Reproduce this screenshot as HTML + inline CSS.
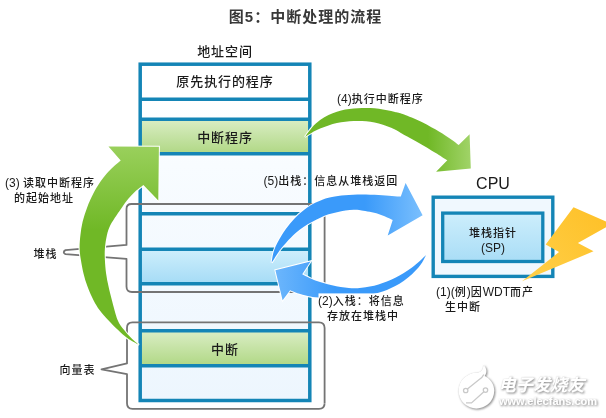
<!DOCTYPE html>
<html lang="zh-CN">
<head>
<meta charset="utf-8">
<title>图5：中断处理的流程</title>
<style>
html,body{margin:0;padding:0;background:#fff;}
body{width:606px;height:418px;overflow:hidden;position:relative;}
svg{position:absolute;left:0;top:0;display:block;will-change:transform;}
text{font-family:"Liberation Sans","Noto Sans CJK SC",sans-serif;fill:#1a1a1a;}
.t12{font-size:11px;letter-spacing:1px;font-weight:500;}
.l{font-size:12px;letter-spacing:0;font-weight:400;}
.row{font-size:13px;letter-spacing:0.9px;font-weight:500;}
</style>
</head>
<body>
<svg width="606" height="418" viewBox="0 0 606 418">
<defs>
<linearGradient id="gGreenRow" x1="0" y1="0" x2="0" y2="1">
<stop offset="0" stop-color="#d9edc3"/><stop offset="1" stop-color="#b1d886"/>
</linearGradient>
<linearGradient id="gBlueRow" x1="0" y1="0" x2="0" y2="1">
<stop offset="0" stop-color="#cdeefc"/><stop offset="1" stop-color="#a6dcf6"/>
</linearGradient>
<linearGradient id="gTbl" x1="0" y1="0" x2="0" y2="1">
<stop offset="0" stop-color="#ffffff"/><stop offset="0.1" stop-color="#ffffff"/><stop offset="0.3" stop-color="#f8fcff"/><stop offset="1" stop-color="#edf6fe"/>
</linearGradient>
<linearGradient id="gSP" x1="0" y1="0" x2="0" y2="1">
<stop offset="0" stop-color="#cdeefc"/><stop offset="1" stop-color="#a9ddf6"/>
</linearGradient>
<linearGradient id="gArrow3" gradientUnits="userSpaceOnUse" x1="0" y1="146" x2="0" y2="230">
<stop offset="0" stop-color="#9ad05c"/><stop offset="1" stop-color="#70b826"/>
</linearGradient>
<linearGradient id="gArrow4" gradientUnits="userSpaceOnUse" x1="428" y1="0" x2="472" y2="0">
<stop offset="0" stop-color="#70b826"/><stop offset="1" stop-color="#a2d46a"/>
</linearGradient>
<linearGradient id="gArrow5" gradientUnits="userSpaceOnUse" x1="365" y1="0" x2="424" y2="0">
<stop offset="0" stop-color="#3a9afa"/><stop offset="1" stop-color="#7cc0fd"/>
</linearGradient>
<linearGradient id="gArrow2" gradientUnits="userSpaceOnUse" x1="275" y1="0" x2="335" y2="0">
<stop offset="0" stop-color="#6cb6fc"/><stop offset="1" stop-color="#3a9afa"/>
</linearGradient>
<linearGradient id="gBolt" gradientUnits="userSpaceOnUse" x1="606" y1="210" x2="522" y2="281">
<stop offset="0" stop-color="#fec027"/><stop offset="1" stop-color="#ffd04a"/>
</linearGradient>
</defs>

<!-- table fills -->
<rect x="140" y="64" width="170" height="337" fill="url(#gTbl)"/>
<rect x="140" y="120" width="170" height="33" fill="url(#gGreenRow)"/>
<rect x="140" y="250" width="170" height="33" fill="url(#gBlueRow)"/>
<rect x="140" y="332" width="170" height="33" fill="url(#gGreenRow)"/>
<!-- table lines -->
<g fill="none" stroke="#1485b6" stroke-width="3.5">
<rect x="140.2" y="64.2" width="169.6" height="336.3"/>
<path d="M140 99.2H310M140 119.2H310M140 153.8H310M140 213.7H310M140 249.2H310M140 283.8H310M140 330.8H310M140 365.8H310"/>
</g>

<!-- gray callout brackets -->
<g fill="none" stroke="#747474" stroke-width="1.8" stroke-linejoin="round">
<path d="M324.6 288V209.5Q324.6 204 319 204H131.5Q126.5 204 126.5 209V244.9L65.5 250.1Q62 252.1 65.5 254.2L126.5 258.8V286.5Q126.5 292 132 292H319Q324.6 292 324.6 286.5"/>
<path d="M324.6 403V328Q324.6 322.3 319 322.3H132.5Q127 322.3 127 327.8V363.4L101.5 369.3L127 374.2V403.3Q127 408.9 132.5 408.9H319Q324.6 408.9 324.6 403.3"/>
</g>

<!-- arrow 3 (green, left) -->
<path d="M138.9 344.9C137.0 343.8 130.7 340.6 127.2 338.1C123.7 335.6 121.3 333.1 118.1 330.1C114.9 327.1 111.2 323.4 108.1 320.0C105.0 316.6 101.9 313.3 99.5 310.0C97.1 306.7 95.5 304.1 93.5 300.2C91.5 296.3 89.3 291.3 87.6 286.8C85.9 282.3 84.6 277.9 83.5 273.4C82.4 268.9 81.6 264.1 80.9 260.0C80.2 255.9 79.7 252.7 79.6 248.6C79.5 244.5 79.9 239.7 80.4 235.2C80.9 230.7 81.5 226.3 82.6 221.8C83.7 217.3 85.5 212.0 86.8 208.4C88.1 204.8 89.0 202.7 90.2 200.0C91.4 197.3 92.8 194.5 94.1 192.0C95.4 189.5 96.6 187.5 98.1 185.2C99.6 182.9 101.4 180.3 103.1 178.1C104.8 175.9 106.2 174.1 108.1 172.1C109.9 170.1 112.1 168.0 114.2 166.1C116.3 164.2 119.6 161.5 120.7 160.6L108.5 146.4L158.9 146.7L158.3 200.5L143.4 185.1C142.0 186.2 137.8 189.3 135.2 191.6C132.6 193.9 130.3 196.5 128.1 199.1C125.9 201.7 124.0 204.5 122.1 207.2C120.2 209.9 118.6 212.2 116.6 215.2C114.6 218.2 111.9 221.9 110.3 225.2C108.7 228.5 107.8 231.3 106.9 235.2C106.0 239.1 105.2 244.5 104.9 248.6C104.6 252.7 104.7 255.9 104.9 260.0C105.1 264.1 105.5 268.9 106.1 273.4C106.7 277.9 107.6 282.3 108.6 286.8C109.6 291.3 110.4 294.7 111.9 300.2C113.4 305.7 115.6 315.0 117.6 320.0C119.6 325.0 121.8 327.1 124.1 330.1C126.4 333.1 128.7 335.6 131.2 338.1C133.7 340.6 137.6 343.8 138.9 344.9Z" fill="url(#gArrow3)" stroke="#fff" stroke-width="2" paint-order="stroke" stroke-linejoin="miter"/>

<!-- arrow 4 (green, top right) -->
<path d="M305.0 136.9C306.1 135.4 309.3 130.5 311.8 127.7C314.3 124.9 317.3 122.2 320.1 120.1C322.9 118.0 325.7 116.5 328.5 115.1C331.3 113.7 334.1 112.7 336.9 111.8C339.7 110.9 342.5 110.2 345.3 109.6C348.1 109.0 350.8 108.7 353.6 108.4C356.4 108.1 359.2 108.0 362.0 107.9C364.8 107.9 367.6 108.0 370.4 108.1C373.2 108.2 376.0 108.3 378.8 108.7C381.6 109.1 384.4 109.7 387.1 110.2C389.8 110.7 392.6 111.3 395.0 111.9C397.4 112.5 397.9 112.3 401.8 113.7C405.7 115.1 412.9 117.8 418.5 120.4C424.1 123.0 430.3 126.4 435.3 129.3C440.3 132.2 444.8 135.1 448.7 137.7C452.6 140.3 457.0 143.7 458.7 144.9L469.6 134.3L470.8 168.5L436.1 171.7L447.3 160.3C445.3 159.0 440.1 155.6 435.3 152.7C430.5 149.8 424.1 145.9 418.5 142.7C412.9 139.5 405.7 135.7 401.8 133.5C397.9 131.3 397.4 130.8 395.0 129.6C392.6 128.4 389.8 127.2 387.1 126.2C384.4 125.2 381.6 124.2 378.8 123.5C376.0 122.8 373.2 122.2 370.4 121.8C367.6 121.4 364.8 121.2 362.0 121.1C359.2 121.0 356.4 121.0 353.6 121.1C350.8 121.2 348.1 121.5 345.3 121.8C342.5 122.1 339.7 122.5 336.9 123.1C334.1 123.7 331.3 124.6 328.5 125.5C325.7 126.4 322.9 127.3 320.1 128.5C317.3 129.7 314.3 131.3 311.8 132.7C309.3 134.1 306.1 136.2 305.0 136.9Z" fill="url(#gArrow4)" stroke="#fff" stroke-width="2" paint-order="stroke" stroke-linejoin="miter"/>

<!-- arrow 5 (blue, upper) -->
<path d="M271.6 262.8C272.0 260.7 272.5 254.6 274.2 250.0C275.9 245.4 279.0 239.7 281.7 235.3C284.4 230.9 287.3 226.9 290.1 223.5C292.9 220.1 295.7 217.2 298.5 214.6C301.3 212.0 304.1 209.8 306.9 207.8C309.7 205.8 312.4 204.2 315.2 202.8C318.0 201.4 320.8 200.2 323.6 199.2C326.4 198.2 328.4 197.7 332.0 197.0C335.6 196.3 340.1 195.6 345.0 195.2C349.9 194.8 356.1 194.5 361.7 194.5C367.3 194.5 373.5 194.8 378.5 195.0C383.5 195.2 388.2 195.6 391.9 195.9C395.6 196.2 399.3 196.5 400.8 196.6L405.6 183.0L422.6 215.2L387.7 235.6L392.7 219.9C390.3 218.9 383.7 215.5 378.5 213.9C373.3 212.3 365.8 211.2 361.7 210.5C357.6 209.8 356.5 209.8 353.8 209.8C351.1 209.8 348.2 210.1 345.4 210.5C342.6 210.9 339.8 211.6 337.0 212.2C334.2 212.8 331.4 213.4 328.6 214.3C325.8 215.2 323.1 216.4 320.3 217.7C317.5 219.0 314.7 220.4 311.9 221.9C309.1 223.4 306.3 225.0 303.5 226.9C300.7 228.8 297.9 231.1 295.1 233.6C292.3 236.1 289.3 239.3 286.8 242.0C284.3 244.7 282.5 246.5 280.0 250.0C277.5 253.5 273.0 260.7 271.6 262.8Z" fill="url(#gArrow5)" stroke="#fff" stroke-width="2" paint-order="stroke" stroke-linejoin="miter"/>

<!-- arrow 2 (blue, lower) -->
<path d="M426.2 255.0C423.8 257.1 417.1 263.8 412.0 267.6C406.9 271.4 400.9 274.9 395.3 277.7C389.7 280.5 384.1 282.7 378.5 284.4C372.9 286.1 366.6 287.1 361.7 287.7C356.8 288.3 353.8 288.4 348.8 288.0C343.9 287.6 337.6 286.4 332.0 285.2C326.4 283.9 320.3 282.3 315.3 280.5C310.3 278.7 304.4 275.3 302.2 274.3L310.6 261.4L275.4 270.3L282.6 300.3L290.1 290.2C291.5 290.8 295.7 292.7 298.5 293.6C301.3 294.5 304.1 295.2 306.9 295.8C309.7 296.4 311.1 296.9 315.3 297.3C319.5 297.7 326.6 298.2 332.0 298.3C337.4 298.4 343.1 298.2 348.0 297.8C352.9 297.4 358.0 296.6 361.7 296.1C365.4 295.6 367.3 295.3 370.1 294.7C372.9 294.1 375.7 293.5 378.5 292.7C381.3 291.9 384.1 291.0 386.9 289.9C389.7 288.8 392.5 287.5 395.3 286.0C398.1 284.5 400.8 282.9 403.6 281.0C406.4 279.1 409.2 276.9 412.0 274.3C414.8 271.7 418.0 268.3 420.4 265.1C422.8 261.9 425.2 256.7 426.2 255.0Z" fill="url(#gArrow2)" stroke="#fff" stroke-width="2" paint-order="stroke" stroke-linejoin="miter"/>

<rect x="318.5" y="293.4" width="86" height="13" fill="#fff"/>
<!-- CPU -->
<rect x="433.2" y="197.2" width="119.6" height="79.2" fill="#f0f8fe" stroke="#1485b6" stroke-width="3.4"/>
<rect x="442.7" y="213.1" width="100.1" height="48.4" fill="url(#gSP)" stroke="#1485b6" stroke-width="3.3"/>
<!-- bolt -->
<path d="M573.5 207.3L612 224L577.9 243L593.5 251.3L522 281.3L559 252.1L545.7 244.5Z" fill="url(#gBolt)"/>

<!-- texts -->
<text x="305.5" y="22" text-anchor="middle" font-size="15" font-weight="bold" style="fill:#383838;letter-spacing:1px">图5：中断处理的流程</text>
<text x="225" y="56" text-anchor="middle" class="row">地址空间</text>
<text x="225" y="86.4" text-anchor="middle" class="row">原先执行的程序</text>
<text x="225" y="141.9" text-anchor="middle" class="row">中断程序</text>
<text x="225" y="354" text-anchor="middle" class="row">中断</text>
<text x="5" y="186.5" class="t12"><tspan class="l">(3) </tspan>读取中断程序</text>
<text x="14" y="201.5" class="t12">的起始地址</text>
<text x="33.5" y="258" class="t12">堆栈</text>
<text x="59.5" y="374" class="t12">向量表</text>
<text x="337" y="103" class="t12"><tspan class="l">(4)</tspan>执行中断程序</text>
<text x="263.5" y="185" class="t12"><tspan class="l">(5)</tspan>出栈：信息从堆栈返回</text>
<text x="318" y="305" class="t12"><tspan class="l">(2)</tspan>入栈：将信息</text>
<text x="327" y="320" class="t12">存放在堆栈中</text>
<text x="436" y="296" class="t12"><tspan class="l">(1)(</tspan>例<tspan class="l">)</tspan>因<tspan class="l">WDT</tspan>而产</text>
<text x="445" y="311" class="t12">生中断</text>
<text x="493" y="189" text-anchor="middle" font-size="16">CPU</text>
<text x="493" y="236.5" text-anchor="middle" class="t12">堆栈指针</text>
<text x="493" y="252" text-anchor="middle" class="t12"><tspan class="l">(SP)</tspan></text>

<!-- watermark -->
<filter id="wmShadow" x="-20%" y="-20%" width="150%" height="150%">
<feDropShadow dx="1" dy="1" stdDeviation="0.9" flood-color="#808080" flood-opacity="0.8" result="a"/>
<feDropShadow in="a" dx="0" dy="0" stdDeviation="0.7" flood-color="#909090" flood-opacity="0.5"/>
</filter>
<g filter="url(#wmShadow)">
<path d="M476.4 372.8C480 372.8 483.4 370.5 483.4 364.8C487.2 368.5 487 373.2 484.6 376C490.4 378.8 494.2 384.2 494.2 390.6A17.8 17.8 0 1 1 476.4 372.8Z" fill="#fff"/>
<text x="498.5" y="390.5" font-size="17.2" font-weight="bold" font-style="italic" style="fill:#fff">电子发烧友</text>
<text x="499" y="405.3" font-size="11" font-weight="bold" style="fill:#fff">www.elecfans.com</text>
</g>
<g fill="none" stroke="#c9c9c9" stroke-width="1.3">
<circle cx="465.7" cy="390.5" r="2.2"/><circle cx="485.5" cy="390.1" r="2.2"/>
<path d="M467.4 389L478.9 379.8Q482.5 377.5 483.8 374.5M483.9 391.7L471.5 402.9H466"/>
</g>
</svg>
</body>
</html>
